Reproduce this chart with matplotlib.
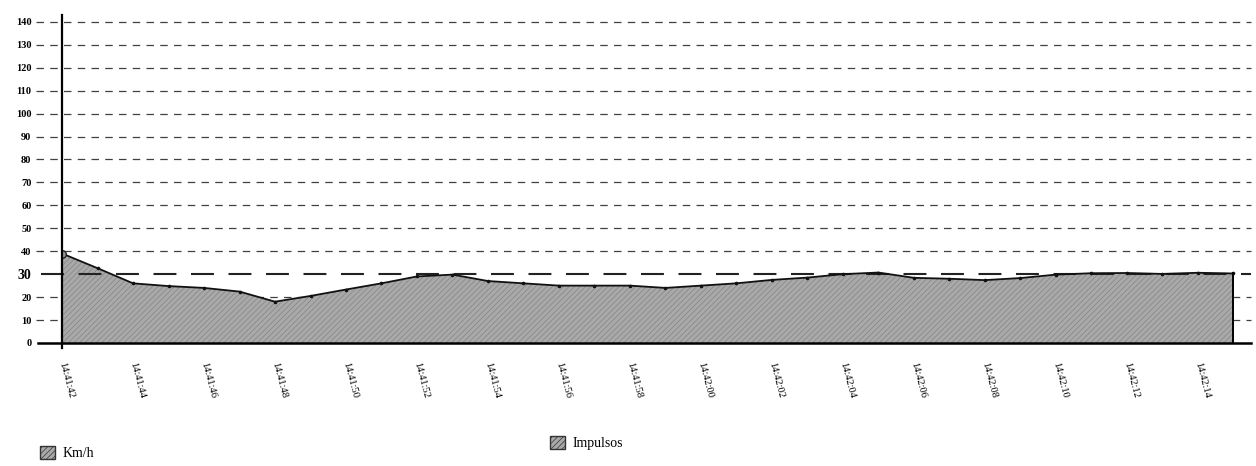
import numpy as np
import matplotlib
matplotlib.use("Agg")
import matplotlib.pyplot as plt
from matplotlib.patches import Patch
from matplotlib.transforms import blended_transform_factory

# one reading per second, 14:41:42 .. 14:42:15
times = ['14:41:42', '14:41:43', '14:41:44', '14:41:45', '14:41:46', '14:41:47',
         '14:41:48', '14:41:49', '14:41:50', '14:41:51', '14:41:52', '14:41:53',
         '14:41:54', '14:41:55', '14:41:56', '14:41:57', '14:41:58', '14:41:59',
         '14:42:00', '14:42:01', '14:42:02', '14:42:03', '14:42:04', '14:42:05',
         '14:42:06', '14:42:07', '14:42:08', '14:42:09', '14:42:10', '14:42:11',
         '14:42:12', '14:42:13', '14:42:14', '14:42:15']
kmh = [39, 32.6, 26, 24.8, 24, 22.4, 18, 20.5, 23.3, 26, 29, 29.8,
       27, 26, 25, 25, 25, 24, 25, 26, 27.5, 28.5, 30, 30.7,
       28.4, 28, 27.4, 28.3, 29.8, 30.4, 30.5, 30.1, 30.6, 30.3]
y_ticks = list(range(0, 150, 10))
ref_level = 30  # long dashed line (Impulsos)

plt.rcParams['font.family'] = ['Liberation Serif', 'DejaVu Serif']
plt.rcParams['hatch.linewidth'] = 0.5
plt.rcParams['hatch.color'] = '#848484'

fig = plt.figure(figsize=(12.56, 4.66), dpi=100)
ax = fig.add_axes([0.0494, 0.264, 0.9467, 0.704])
x = np.arange(len(kmh))

ax.set_xlim(0, 33.5)
ax.set_ylim(0, 143)

# dashed grid, running a little past the axis on the left
tr = blended_transform_factory(ax.transAxes, ax.transData)
for v in y_ticks[1:]:
    if v == ref_level:
        continue
    ax.plot([-0.022, 1.0], [v, v], transform=tr, color='#404040', lw=0.9,
            ls=(0, (6, 5)), clip_on=False, zorder=1)

# the area
area = ax.fill_between(x, kmh, 0, facecolor='#a9a9a9', edgecolor='#848484',
                       hatch='//////', lw=0, zorder=2)
ax.plot(x, kmh, color='#111111', lw=1.3, marker='o', ms=1.6, zorder=4)
ax.plot([x[-1], x[-1]], [0, kmh[-1]], color='black', lw=1.4, zorder=4)
ax.plot([0], [kmh[0]], marker='o', ms=5.5, mfc='#999999', mec='#222222', zorder=5)

# reference line at 30
ax.plot([-0.018, 1.0], [ref_level, ref_level], transform=tr, color='#222222',
        lw=1.5, ls=(0, (11, 7)), clip_on=False, zorder=3)

# axes lines
for s in ['top', 'right', 'bottom', 'left']:
    ax.spines[s].set_visible(False)
ax.plot([-0.02, 1.0], [0, 0], transform=tr, color='black', lw=1.8,
        clip_on=False, zorder=5)
ax.plot([0, 0], [-2, 143], color='black', lw=1.6, clip_on=False, zorder=5)

ax.set_yticks(y_ticks)
ax.set_yticklabels([str(v) for v in y_ticks])
ax.tick_params(axis='y', length=0, pad=22, labelsize=7.5)
for lbl in ax.get_yticklabels():
    lbl.set_fontweight('bold')
    if lbl.get_text() == str(ref_level):
        lbl.set_fontsize(10)

ax.set_xticks(x[::2])
ax.set_xticklabels(times[::2], rotation=-75, ha='left', va='center',
                   rotation_mode='anchor', fontsize=7.5)
ax.tick_params(axis='x', length=0, pad=14)

# legends
hatch_patch = dict(facecolor='#a9a9a9', edgecolor='#333333', hatch='//////')
fig.legend(handles=[Patch(**hatch_patch)], labels=['Km/h'], loc='center left',
           bbox_to_anchor=(0.022, 0.028), frameon=False, fontsize=10,
           handlelength=1.1, handleheight=1.1, handletextpad=0.5)
fig.legend(handles=[Patch(**hatch_patch)], labels=['Impulsos'], loc='center left',
           bbox_to_anchor=(0.428, 0.05), frameon=False, fontsize=10,
           handlelength=1.1, handleheight=1.1, handletextpad=0.5)

fig.savefig('out.png', dpi=100)
